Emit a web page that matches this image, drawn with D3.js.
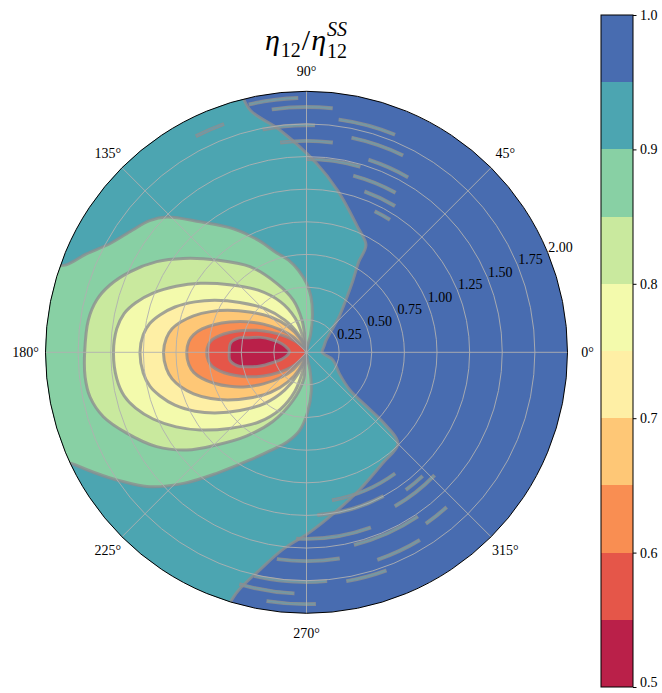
<!DOCTYPE html>
<html><head><meta charset="utf-8">
<script src="https://cdn.jsdelivr.net/npm/d3@7"></script>
<style>body{margin:0;background:#fff}</style>
</head><body>
<svg id="c" width="662" height="693"></svg>
<script>
// ---- data (angle in degrees, radius in data units) ----
const levels = [0.5,0.55,0.6,0.65,0.7,0.75,0.8,0.85,0.9,0.95,1.0];
const bandColors = ["#ba2049","#e55649","#f98e52","#fec776","#feefa5","#f3faac","#c9e99e","#88d0a4","#4ca5b1","#486cb0"];
const thetaTicks = [0,45,90,135,180,225,270,315];
const rTicks = [0.25,0.5,0.75,1.0,1.25,1.5,1.75,2.0];
const cbarTicks = [0.5,0.6,0.7,0.8,0.9,1.0];

const c095 = [[0,0.12],[18,0.14],[30,0.17],[38,0.22],[47,0.36],[53,0.5],[57,0.65],[60,0.8],[61,0.94],[68,1.04],[79,1.26],[87,1.45],[97,1.72],[103,1.9],[106,2.2],[125,2.3],[145,2.3],[165,2.3],[185,2.3],[205,2.3],[225,2.3],[245,2.3],[251,2.2],[254,1.9],[258,1.7],[263,1.525],[271,1.38],[279,1.26],[291,1.13],[304.6,1.03],[315,0.99],[317.5,0.8],[318,0.62],[319,0.44],[327,0.3],[344,0.21]];
const c090 = [[0,0],[77,0.14],[81,0.29],[85.5,0.43],[90,0.53],[95.5,0.63],[101,0.72],[107,0.8],[113,0.93],[120.6,1.1],[129.2,1.29],[135.9,1.49],[140,1.57],[145,1.63],[151,1.72],[156,1.85],[160,1.96],[163,2.2],[180,2.3],[199,2.2],[206,1.97],[212.6,1.787],[220.7,1.58],[226.8,1.378],[233.4,1.155],[242.3,0.932],[250,0.8],[258,0.7],[265,0.6],[271,0.46],[277,0.3],[281,0.14]];
const c085 = [[180,0],[96,0.13],[98,0.25],[104.2,0.413],[113.4,0.576],[123.4,0.786],[134.2,0.987],[142.7,1.187],[148.8,1.341],[155.5,1.487],[161.1,1.592],[166,1.657],[171.6,1.69],[180,1.70],[186.3,1.707],[191.6,1.694],[197.6,1.633],[204.2,1.511],[212.2,1.357],[219.2,1.185],[225.8,0.99],[234.3,0.79],[244,0.59],[254,0.39],[263.5,0.22],[265,0.1]];
const c080 = [[180,0],[104,0.14],[108.6,0.279],[117.2,0.434],[127.9,0.603],[138.8,0.786],[147,0.97],[153.1,1.12],[158.9,1.261],[163.8,1.363],[168,1.429],[172.9,1.465],[180,1.479],[187.9,1.468],[193.4,1.437],[198.1,1.377],[203.5,1.282],[209.8,1.15],[216.2,1.008],[224.6,0.831],[235.4,0.651],[245.4,0.478],[253.4,0.311],[258,0.16]];
const c075 = [[180,0],[114.5,0.153],[123.9,0.297],[133.6,0.462],[143.2,0.638],[150.4,0.807],[155.7,0.939],[161,1.066],[165.7,1.159],[169.5,1.22],[173.8,1.258],[180,1.276],[187.2,1.261],[192.3,1.227],[196.6,1.171],[201.9,1.086],[207.8,0.967],[213.5,0.842],[221.2,0.678],[230.8,0.504],[240.1,0.332],[248.6,0.175]];
const c070 = [[180,0],[116.1,0.125],[125.6,0.245],[135.4,0.385],[144.8,0.536],[151.9,0.683],[157,0.798],[162.1,0.91],[166.5,0.992],[170.1,1.046],[174.2,1.079],[180,1.096],[186.6,1.081],[191.2,1.05],[195.3,0.999],[200.2,0.922],[205.8,0.815],[211.2,0.705],[218.7,0.561],[228.2,0.412],[237.9,0.268],[246.7,0.139]];
const c065 = [[180,0],[125.6,0.063],[130.8,0.155],[139.4,0.267],[146.9,0.395],[153,0.516],[158.5,0.633],[163.4,0.739],[167.4,0.82],[171.1,0.875],[174.7,0.905],[180,0.918],[186,0.906],[190.1,0.878],[194,0.825],[198.5,0.747],[203.9,0.644],[209.8,0.53],[216.2,0.41],[224,0.281],[232.5,0.166],[237.7,0.069]];
const c060 = [[180,0],[135,0.119],[143.5,0.21],[150.7,0.316],[156.3,0.419],[161.2,0.518],[165.6,0.609],[169.1,0.679],[172.2,0.727],[175.4,0.753],[180,0.765],[185.1,0.754],[188.6,0.729],[192,0.681],[195.9,0.614],[200.7,0.524],[206,0.426],[211.9,0.325],[219.4,0.218],[228,0.126]];
const c055 = [[180,0.592],[173,0.585],[168,0.53],[166,0.46],[162,0.37],[160,0.28],[161,0.2],[168,0.15],[176,0.132],[186,0.14],[195,0.19],[197,0.28],[196.5,0.37],[194,0.46],[191,0.54],[186,0.59]];
const contourLevels = [0.95,0.9,0.85,0.8,0.75,0.7,0.65,0.6,0.55];
const contours = [c095,c090,c085,c080,c075,c070,c065,c060,c055];

// noisy streaks near the 0.95 level: [radius, theta1, theta2]
const streaks = [[1.95,92,103],[1.88,84,98],[1.80,68,82],[1.74,88,101],[1.68,64,78],[1.62,83,97],[1.55,60,72],[1.48,74,90],[1.40,61,75],[1.31,59,70],[1.86,110,117],[1.20,58,64],
 [1.15,280,306],[1.25,274,298],[1.36,300,316],[1.43,267,290],[1.52,284,304],[1.60,262,279],[1.68,289,301],[1.76,257,275],[1.85,254,267],[1.93,261,272],[1.30,306,313],[1.60,305,312],[1.78,280,290]];

// ---- layout ----
const cx = 306.5, cy = 352.3, R = 261;
const serif = "'Liberation Serif','DejaVu Serif',serif";
const svg = d3.select("#c");
const rs = d3.scaleLinear().domain([0,2]).range([0,R]);
const toA = t => (90 - t) * Math.PI / 180;
const color = d3.scaleThreshold().domain(levels.slice(1,-1)).range(bandColors);

svg.append("defs").append("clipPath").attr("id","disk").append("circle").attr("r",R);
const g = svg.append("g").attr("transform",`translate(${cx},${cy})`);
const plot = g.append("g").attr("clip-path","url(#disk)");
plot.append("circle").attr("r",R).attr("fill",color(0.975));

const line = d3.lineRadial().angle(d=>toA(d[0])).radius(d=>rs(d[1])).curve(d3.curveCatmullRomClosed.alpha(0.5));
contours.forEach((c,i)=>{
  plot.append("path").attr("d",line(c)).attr("fill",color(contourLevels[i]-0.025));
});
// streaks: thin slivers of the 0.90-0.95 band outlined by the grey contour line
const arc = d3.arc();
streaks.forEach(s=>{
  plot.append("path").attr("d",arc({innerRadius:rs(s[0])-1.3,outerRadius:rs(s[0])+1.3,startAngle:toA(s[2]),endAngle:toA(s[1]),cornerRadius:1.2}))
    .attr("fill","#6f9aa8").attr("stroke","#8c8f90").attr("stroke-opacity",0.8).attr("stroke-width",1.3);
});
contours.forEach((c,i)=>{
  plot.append("path").attr("d",line(c)).attr("fill","none").attr("stroke","#8c8f90").attr("stroke-opacity",0.8).attr("stroke-width",3).attr("stroke-linejoin","round");
});

// grid
g.selectAll(".rg").data(rTicks.filter(t=>t<2)).join("circle").attr("r",d=>rs(d)).attr("fill","none").attr("stroke","#b0b0b0").attr("stroke-width",0.9);
g.selectAll(".tg").data(thetaTicks).join("line").attr("x1",0).attr("y1",0)
  .attr("x2",d=>R*Math.cos(d*Math.PI/180)).attr("y2",d=>-R*Math.sin(d*Math.PI/180))
  .attr("stroke","#b0b0b0").attr("stroke-width",0.9);
g.append("circle").attr("r",R).attr("fill","none").attr("stroke","#000").attr("stroke-width",1);

// theta labels
g.selectAll(".tl").data(thetaTicks).join("text")
  .attr("x",d=>(R+20)*Math.cos(d*Math.PI/180)).attr("y",d=>-(R+20)*Math.sin(d*Math.PI/180))
  .attr("text-anchor","middle").attr("dominant-baseline","central")
  .attr("font-family",serif).attr("font-size",14).text(d=>d+"°");
// r labels
const ra = 22.5*Math.PI/180;
g.selectAll(".rl").data(rTicks).join("text")
  .attr("x",d=>(rs(d)+14)*Math.cos(ra)).attr("y",d=>-(rs(d)+14)*Math.sin(ra))
  .attr("text-anchor","middle").attr("dominant-baseline","central")
  .attr("font-family",serif).attr("font-size",14).text(d=>d3.format(".2f")(d));

// title
const tg = svg.append("g");
let xc = 0;
function piece(txt, size, dy, italic, advance=true){
  const t = tg.append("text").attr("x",xc).attr("y",dy).attr("font-family",serif)
    .attr("font-size",size).attr("font-style",italic?"italic":"normal").text(txt);
  const w = t.node().getComputedTextLength();
  if(advance) xc += w;
  return w;
}
piece("η",30,0,true); xc += 1;
piece("12",20,7,false); xc += 1;
piece("/",30,0,false); xc += 1;
piece("η",30,0,true); xc += 1;
const w1 = piece("SS",20,-14,true,false);
const w2 = piece("12",20,8,false,false);
xc += Math.max(w1,w2);
tg.attr("transform",`translate(${306 - xc/2},50)`);

// colorbar
const cbx = 601, cbw = 32, cbTop = 15, cbBot = 687;
const ys = d3.scaleLinear().domain([0.5,1.0]).range([cbBot,cbTop]);
const cb = svg.append("g");
cb.selectAll("rect").data(bandColors).join("rect")
  .attr("x",cbx).attr("width",cbw)
  .attr("y",(d,i)=>ys(levels[i+1])).attr("height",(d,i)=>ys(levels[i])-ys(levels[i+1]))
  .attr("fill",d=>d).attr("shape-rendering","crispEdges");
cb.append("rect").attr("x",cbx).attr("y",cbTop).attr("width",cbw).attr("height",cbBot-cbTop)
  .attr("fill","none").attr("stroke","#000").attr("stroke-width",1);
const ax = cb.append("g").attr("transform",`translate(${cbx+cbw},0)`)
  .call(d3.axisRight(ys).tickValues(cbarTicks).tickFormat(d3.format(".1f")).tickSize(3.5).tickPadding(3.5));
ax.select(".domain").remove();
ax.selectAll("text").attr("font-family",serif).attr("font-size",14).attr("fill","#000")
  .attr("dy",d=>d===0.5?"-0.05em":"0.32em");
ax.selectAll("line").attr("stroke","#000");
</script>
</body></html>
